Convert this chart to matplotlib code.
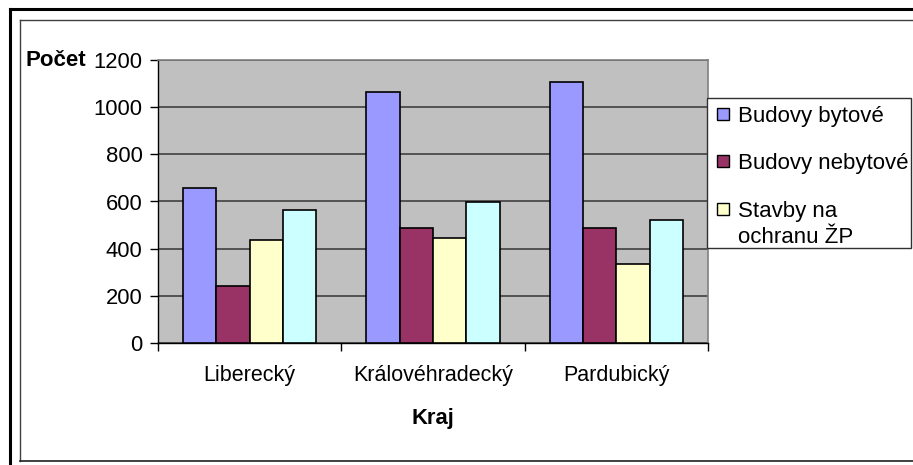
import matplotlib
matplotlib.use("Agg")
import matplotlib.pyplot as plt
from matplotlib.patches import Rectangle
from matplotlib.lines import Line2D
import numpy as np

plt.rcParams['font.family'] = ['Liberation Sans', 'DejaVu Sans']

# data
kraje = ['Liberecký', 'Královéhradecký', 'Pardubický']
serie = ['Budovy bytové', 'Budovy nebytové', 'Stavby na\nochranu ŽP', 'Ostatní stavby']
bytove = [658, 1064, 1106]
nebytove = [243, 488, 488]
ochrana_zp = [436, 447, 336]
ostatni = [563, 598, 521]
hodnoty = [bytove, nebytove, ochrana_zp, ostatni]
barvy = ['#9999FF', '#993366', '#FFFFCC', '#CCFFFF']
yticks = [0, 200, 400, 600, 800, 1000, 1200]

W, H = 913, 465
fig = plt.figure(figsize=(W / 100, H / 100), dpi=100)
fig.patch.set_facecolor('white')

def fx(px):
    return px / W

def fy(py):
    return 1 - py / H

# plot area in pixels: left 158, right 708, top 60, bottom 343
ax = fig.add_axes([fx(158), fy(343), (708 - 158) / W, (343 - 60) / H])
ax.set_facecolor('#C0C0C0')

n = len(serie)
sirka = 1 / (n + 1.5)
x = np.arange(len(kraje)) + 0.5
for i, (vals, c) in enumerate(zip(hodnoty, barvy)):
    pos = x + (i - (n - 1) / 2) * sirka
    ax.bar(pos, vals, width=sirka, color=c, edgecolor='black', linewidth=1.2, zorder=3)

ax.set_xlim(0, len(kraje))
ax.set_ylim(0, 1200)
ax.set_yticks(yticks)
ax.set_yticklabels([str(v) for v in yticks], fontsize=15.8)
ax.yaxis.grid(True, color='#404040', linewidth=1.2, zorder=1)
ax.set_axisbelow(True)

ax.set_xticks(np.arange(len(kraje) + 1))
ax.set_xticklabels([])
ax.set_xticks(x, minor=True)
ax.set_xticklabels(kraje, minor=True, fontsize=15.5)
ax.tick_params(axis='x', which='major', direction='out', length=6, width=1, color='black')
ax.tick_params(axis='x', which='minor', length=0, pad=16)
ax.tick_params(axis='y', direction='out', length=6, width=1, color='black', pad=5)

for s in ['left', 'bottom']:
    ax.spines[s].set_color('black')
    ax.spines[s].set_linewidth(1.0)
for s in ['top', 'right']:
    ax.spines[s].set_color('#808080')
    ax.spines[s].set_linewidth(1.2)

ax.set_xlabel('Kraj', fontsize=15.8, fontweight='bold', labelpad=16)
fig.text(fx(25), fy(61), 'Počet', fontsize=16, fontweight='bold', ha='left', va='center')

# legend box, room for the first three series only
fig.add_artist(Rectangle((fx(707), fy(248)), fx(911) - fx(707), fy(98) - fy(248),
                         transform=fig.transFigure, facecolor='white',
                         edgecolor='#303030', linewidth=1.0, zorder=5))
radky = [114.5, 161.5, 209.5]
for lab, c, yy in zip(serie[:3], barvy[:3], radky):
    fig.add_artist(Rectangle((fx(717), fy(yy + 6)), fx(12), 12 / H,
                             transform=fig.transFigure, facecolor=c,
                             edgecolor='black', linewidth=1.0, zorder=6))
    radky_textu = lab.split('\n')
    for k, t in enumerate(radky_textu):
        fig.text(fx(738), fy(yy + 1.5 + k * 26), t, fontsize=16, ha='left',
                 va='center', zorder=7)

# chart frames
fig.add_artist(Line2D([fx(10), fx(10)], [0, fy(9)], color='black', linewidth=2.2))
fig.add_artist(Line2D([fx(10), 1], [fy(9), fy(9)], color='black', linewidth=2.2))
fig.add_artist(Line2D([fx(20), fx(20)], [fy(461), fy(20)], color='#404040', linewidth=1.0))
fig.add_artist(Line2D([fx(20), 1], [fy(20), fy(20)], color='#404040', linewidth=1.0))
fig.add_artist(Line2D([fx(20), 1], [fy(461), fy(461)], color='#202020', linewidth=1.2))

fig.savefig('out.png', dpi=100)
